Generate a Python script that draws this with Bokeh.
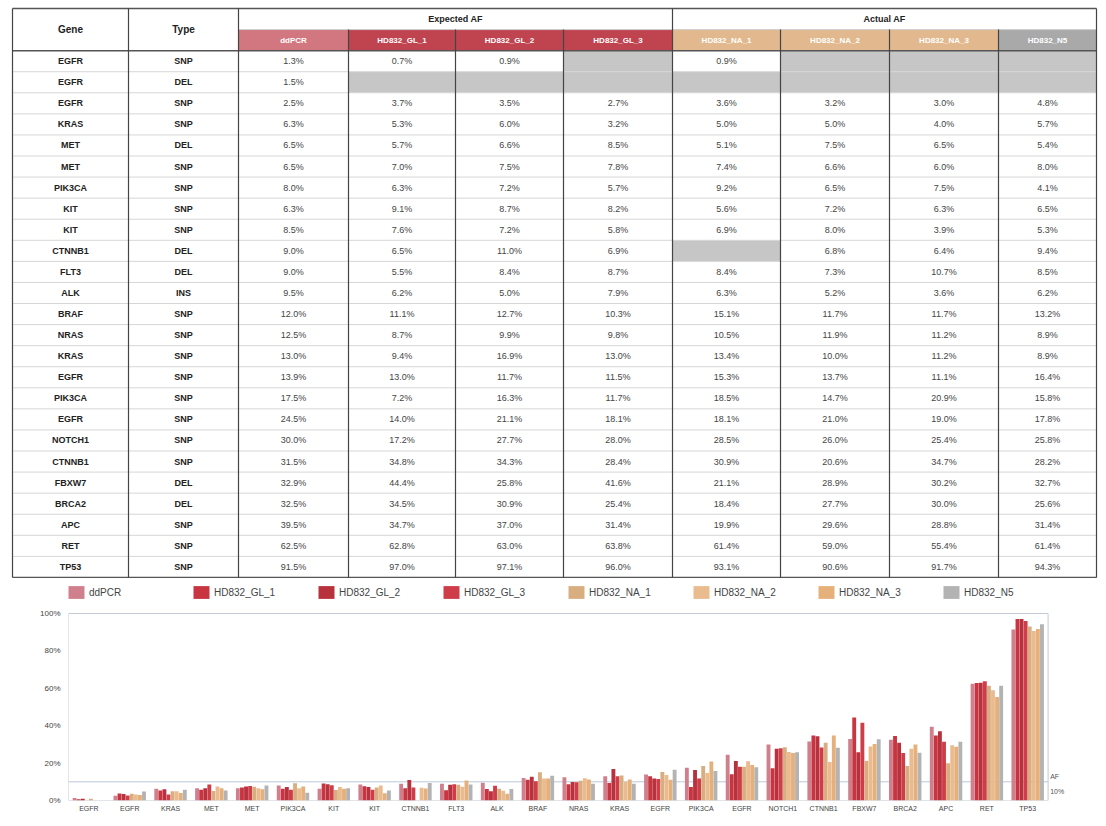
from bokeh.plotting import figure
from bokeh.models import (ColumnDataSource, Range1d, FixedTicker, PrintfTickFormatter,
                          Legend, LegendItem, Label)
from bokeh.transform import dodge
from bokeh.core.properties import value
from bokeh.embed import file_html
from bokeh.resources import INLINE

NaN = float("nan")

# ---------------- data ----------------
genes = ["EGFR", "EGFR", "EGFR", "KRAS", "MET", "MET", "PIK3CA", "KIT", "KIT", "CTNNB1",
         "FLT3", "ALK", "BRAF", "NRAS", "KRAS", "EGFR", "PIK3CA", "EGFR", "NOTCH1", "CTNNB1",
         "FBXW7", "BRCA2", "APC", "RET", "TP53"]
types = ["SNP", "DEL", "SNP", "SNP", "DEL", "SNP", "SNP", "SNP", "SNP", "DEL",
         "DEL", "INS", "SNP", "SNP", "SNP", "SNP", "SNP", "SNP", "SNP", "SNP",
         "DEL", "DEL", "SNP", "SNP", "SNP"]
series_names = ["ddPCR", "HD832_GL_1", "HD832_GL_2", "HD832_GL_3",
                "HD832_NA_1", "HD832_NA_2", "HD832_NA_3", "HD832_N5"]
group_names = ["Expected AF", "Actual AF"]

ddpcr = [1.3, 1.5, 2.5, 6.3, 6.5, 6.5, 8.0, 6.3, 8.5, 9.0, 9.0, 9.5, 12.0, 12.5, 13.0, 13.9,
         17.5, 24.5, 30.0, 31.5, 32.9, 32.5, 39.5, 62.5, 91.5]
gl_1 = [0.7, NaN, 3.7, 5.3, 5.7, 7.0, 6.3, 9.1, 7.6, 6.5, 5.5, 6.2, 11.1, 8.7, 9.4, 13.0,
        7.2, 14.0, 17.2, 34.8, 44.4, 34.5, 34.7, 62.8, 97.0]
gl_2 = [0.9, NaN, 3.5, 6.0, 6.6, 7.5, 7.2, 8.7, 7.2, 11.0, 8.4, 5.0, 12.7, 9.9, 16.9, 11.7,
        16.3, 21.1, 27.7, 34.3, 25.8, 30.9, 37.0, 63.0, 97.1]
gl_3 = [NaN, NaN, 2.7, 3.2, 8.5, 7.8, 5.7, 8.2, 5.8, 6.9, 8.7, 7.9, 10.3, 9.8, 13.0, 11.5,
        11.7, 18.1, 28.0, 28.4, 41.6, 25.4, 31.4, 63.8, 96.0]
na_1 = [0.9, NaN, 3.6, 5.0, 5.1, 7.4, 9.2, 5.6, 6.9, NaN, 8.4, 6.3, 15.1, 10.5, 13.4, 15.3,
        18.5, 18.1, 28.5, 30.9, 21.1, 18.4, 19.9, 61.4, 93.1]
na_2 = [NaN, NaN, 3.2, 5.0, 7.5, 6.6, 6.5, 7.2, 8.0, 6.8, 7.3, 5.2, 11.7, 11.9, 10.0, 13.7,
        14.7, 21.0, 26.0, 20.6, 28.9, 27.7, 29.6, 59.0, 90.6]
na_3 = [NaN, NaN, 3.0, 4.0, 6.5, 6.0, 7.5, 6.3, 3.9, 6.4, 10.7, 3.6, 11.7, 11.2, 11.2, 11.1,
        20.9, 19.0, 25.4, 34.7, 30.2, 30.0, 28.8, 55.4, 91.7]
n5 = [NaN, NaN, 4.8, 5.7, 5.4, 8.0, 4.1, 6.5, 5.3, 9.4, 8.5, 6.2, 13.2, 8.9, 8.9, 16.4,
      15.8, 17.8, 25.8, 28.2, 32.7, 25.6, 31.4, 61.4, 94.3]
series = [ddpcr, gl_1, gl_2, gl_3, na_1, na_2, na_3, n5]

chart_rows = [i for i in range(len(genes)) if i != 1]   # the chart has 24 groups
threshold = 10

# ---------------- styles / layout ----------------
FONT_NAME = "Liberation Sans"
FONT = value(FONT_NAME)
head_colors = ["#d27780", "#bf4450", "#bf4450", "#bf4450",
               "#e2b98e", "#e2b98e", "#e2b98e", "#a9a9a9"]
bar_colors = ["#d0808c", "#c8343f", "#b8323e", "#cf3d48",
              "#d8ae80", "#ebbb90", "#e6b07a", "#b3b3b3"]
W = 1098
col_edges = [12, 128, 238, 348, 455, 563, 672, 780, 889, 998, 1096]

# ---------------- table ----------------
n_rows = len(genes)
tot = n_rows + 2
p1 = figure(width=W, height=578, x_range=Range1d(0, W), y_range=Range1d(tot + 0.05, -0.38),
            output_backend="svg", toolbar_location=None, min_border=0)
p1.axis.visible = False
p1.grid.visible = False
p1.outline_line_color = None

centers = [(col_edges[i] + col_edges[i + 1]) / 2 for i in range(len(col_edges) - 1)]

p1.quad(left=col_edges[2:10], right=col_edges[3:11], top=[1] * 8, bottom=[2] * 8,
        fill_color=head_colors, line_color=None)
p1.text(x=centers[2:], y=[1.5] * 8, text=series_names, text_align="center", text_baseline="middle",
        text_font=FONT, text_font_size="8px", text_color="white", text_font_style="bold")
p1.text(x=[(col_edges[2] + col_edges[6]) / 2, (col_edges[6] + col_edges[10]) / 2], y=[0.5, 0.5],
        text=group_names, text_align="center", text_baseline="middle", text_font=FONT,
        text_font_size="9px", text_color="#222", text_font_style="bold")
p1.text(x=centers[:2], y=[1.0, 1.0], text=["Gene", "Type"], text_align="center", text_baseline="middle",
        text_font=FONT, text_font_size="10px", text_color="#222", text_font_style="bold")

gx0, gx1, gy0, gy1 = [], [], [], []
vx, vy, vt = [], [], []
for r in range(n_rows):
    for j, s in enumerate(series):
        v = s[r]
        if v != v:
            gx0.append(col_edges[2 + j]); gx1.append(col_edges[3 + j])
            gy0.append(r + 2); gy1.append(r + 3)
        else:
            vx.append(centers[2 + j]); vy.append(r + 2.5); vt.append(f"{v:.1f}%")
p1.quad(left=gx0, right=gx1, top=gy0, bottom=gy1, fill_color="#c6c6c6", line_color=None)
p1.text(x=vx, y=vy, text=vt, text_align="center", text_baseline="middle",
        text_font=FONT, text_font_size="9px", text_color="#444")
p1.text(x=[centers[0]] * n_rows, y=[r + 2.5 for r in range(n_rows)], text=genes, text_align="center",
        text_baseline="middle", text_font=FONT, text_font_size="9px", text_color="#222",
        text_font_style="bold")
p1.text(x=[centers[1]] * n_rows, y=[r + 2.5 for r in range(n_rows)], text=types, text_align="center",
        text_baseline="middle", text_font=FONT, text_font_size="9px", text_color="#222",
        text_font_style="bold")

rows_y = list(range(3, tot))
p1.segment(x0=[col_edges[0]] * len(rows_y), x1=[col_edges[-1]] * len(rows_y), y0=rows_y, y1=rows_y,
           line_color="#d6d6d6", line_width=1)
p1.segment(x0=[col_edges[2]], x1=[col_edges[-1]], y0=[1], y1=[1], line_color="#cfcfcf", line_width=1)
p1.segment(x0=[col_edges[0]] * 3, x1=[col_edges[-1]] * 3, y0=[0, 2, tot], y1=[0, 2, tot],
           line_color="#555", line_width=1.5)
full_v = [col_edges[i] for i in (0, 1, 2, 6, 10)]
part_v = [col_edges[i] for i in (3, 4, 5, 7, 8, 9)]
p1.segment(x0=full_v, x1=full_v, y0=[0] * len(full_v), y1=[tot] * len(full_v), line_color="#444", line_width=1.2)
p1.segment(x0=part_v, x1=part_v, y0=[1] * len(part_v), y1=[tot] * len(part_v), line_color="#444", line_width=1.2)

# ---------------- bar chart ----------------
data = {"x": list(range(len(chart_rows)))}
for name, s in zip(series_names, series):
    data[name] = [s[i] for i in chart_rows]
src = ColumnDataSource(data)
labels = {i: genes[r] for i, r in enumerate(chart_rows)}
n_groups = len(chart_rows)

P2_H, P2_TOP, P2_BOTTOM = 240, 2, 18
frame_h = P2_H - P2_TOP - P2_BOTTOM
y_top = 100 * frame_h / 187.0      # extra room above 100% for the legend
p2 = figure(width=W, height=P2_H, x_range=Range1d(-0.5, n_groups), y_range=Range1d(0, y_top),
            output_backend="svg", toolbar_location=None,
            min_border_left=68, min_border_right=30, min_border_top=P2_TOP, min_border_bottom=P2_BOTTOM)
p2.grid.visible = False
p2.outline_line_color = None

# plot box (0 .. 100 %)
p2.quad(left=[-0.5], right=[n_groups - 0.5], bottom=[0], top=[100], fill_color=None,
        line_color="#c3cad3", line_width=1)
# AF threshold line
p2.segment(x0=[-0.5], x1=[n_groups - 0.5], y0=[threshold], y1=[threshold],
           line_color="#b9c9da", line_width=1)

items = []
bw = 0.1
for j, name in enumerate(series_names):
    r = p2.vbar(x=dodge("x", (j - 3.5) * bw, range=p2.x_range), top=name, width=bw * 0.95,
                source=src, fill_color=bar_colors[j], line_color=None)
    items.append(LegendItem(label=name, renderers=[r]))

leg = Legend(items=items, orientation="horizontal", location=(-2, frame_h - 20), label_width=100,
             spacing=2, glyph_width=20, glyph_height=16, label_standoff=3, padding=2, margin=0,
             label_text_font=FONT_NAME, label_text_font_size="10px", label_text_color="#444",
             border_line_color=None, background_fill_alpha=0)
p2.add_layout(leg, "center")

p2.add_layout(Label(x=n_groups - 0.45, y=threshold + 1, text="AF", text_font=FONT_NAME,
                    text_font_size="7px", text_color="#555"))
p2.add_layout(Label(x=n_groups - 0.45, y=threshold - 7, text=f"{threshold}%", text_font=FONT_NAME,
                    text_font_size="7px", text_color="#555"))

p2.yaxis.ticker = FixedTicker(ticks=[0, 20, 40, 60, 80, 100])
p2.yaxis.formatter = PrintfTickFormatter(format="%d%%")
p2.xaxis.ticker = FixedTicker(ticks=list(range(n_groups)))
p2.xaxis.major_label_overrides = labels
for ax in (p2.xaxis, p2.yaxis):
    ax.axis_line_color = None
    ax.major_tick_line_color = None
    ax.minor_tick_line_color = None
    ax.major_tick_out = 0
    ax.major_label_text_font = FONT_NAME
    ax.major_label_text_color = "#444"
p2.yaxis.major_label_text_font_size = "8px"
p2.xaxis.major_label_text_font_size = "7px"
p2.xaxis.major_label_standoff = 4
p2.yaxis.major_label_standoff = 8

open("out.html", "w").write(file_html([p1, p2], INLINE))
